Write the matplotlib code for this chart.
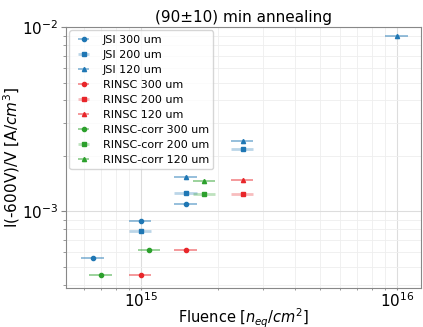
import matplotlib
matplotlib.use("Agg")
import matplotlib.pyplot as plt

# data: (fluence, current/volume) per series
jsi300_x = [6.5e14, 1.0e15, 1.5e15]
jsi300_y = [5.57e-4, 8.83e-4, 1.10e-3]
jsi200_x = [1.0e15, 1.5e15, 2.5e15]
jsi200_y = [7.87e-4, 1.26e-3, 2.18e-3]
jsi120_x = [1.5e15, 2.5e15, 1.0e16]
jsi120_y = [1.54e-3, 2.42e-3, 8.95e-3]

rinsc300_x = [1.0e15, 1.5e15]
rinsc300_y = [4.49e-4, 6.19e-4]
rinsc200_x = [2.5e15]
rinsc200_y = [1.25e-3]
rinsc120_x = [2.5e15]
rinsc120_y = [1.48e-3]

corr300_x = [7.0e14, 1.08e15]
corr300_y = [4.49e-4, 6.19e-4]
corr200_x = [1.77e15]
corr200_y = [1.25e-3]
corr120_x = [1.77e15]
corr120_y = [1.47e-3]

rel_xerr = 0.1

series = [
    ("JSI 300 um", jsi300_x, jsi300_y, "#1f77b4", "o"),
    ("JSI 200 um", jsi200_x, jsi200_y, "#1f77b4", "s"),
    ("JSI 120 um", jsi120_x, jsi120_y, "#1f77b4", "^"),
    ("RINSC 300 um", rinsc300_x, rinsc300_y, "#e8262a", "o"),
    ("RINSC 200 um", rinsc200_x, rinsc200_y, "#e8262a", "s"),
    ("RINSC 120 um", rinsc120_x, rinsc120_y, "#e8262a", "^"),
    ("RINSC-corr 300 um", corr300_x, corr300_y, "#2ca02c", "o"),
    ("RINSC-corr 200 um", corr200_x, corr200_y, "#2ca02c", "s"),
    ("RINSC-corr 120 um", corr120_x, corr120_y, "#2ca02c", "^"),
]

fig = plt.figure(figsize=(4.23, 3.27), dpi=100)
ax = fig.add_axes([0.156, 0.12, 0.839, 0.797])

for label, xs, ys, c, m in series:
    xerr = [x * rel_xerr for x in xs]
    lw = 2.0 if m == "s" else 1.2
    al = 0.3 if m == "s" else 0.55
    eb = ax.errorbar(xs, ys, xerr=xerr, fmt=m, color=c, ms=3 if m != "s" else 3.5,
                     elinewidth=lw, label=label, linestyle="none")
    for coll in eb[2]:
        coll.set_alpha(al)

ax.set_xscale("log")
ax.set_yscale("log")
ax.set_xlim(5.1e14, 1.24e16)
ax.set_ylim(3.85e-4, 1e-2)
ax.grid(True, which="major", color="#dddddd", lw=0.8)
ax.grid(True, which="minor", color="#eeeeee", lw=0.6)
for s in ax.spines.values():
    s.set_color("#888888")
ax.tick_params(axis="both", which="both", color="#888888", labelsize=11, pad=2)
ax.tick_params(axis="x", which="both", length=1.5, pad=1)
ax.set_title("(90±10) min annealing", fontsize=11, pad=4)
ax.set_xlabel(r"Fluence [$n_{eq}/cm^2$]", fontsize=10.5, labelpad=-2.5)
ax.set_ylabel(r"I(-600V)/V [A/$cm^3$]", fontsize=11, labelpad=0)
ax.legend(loc="upper left", fontsize=8, labelspacing=0.45, handlelength=1.8,
          borderaxespad=0.3, framealpha=0.8)

fig.savefig("out.png", dpi=100)
